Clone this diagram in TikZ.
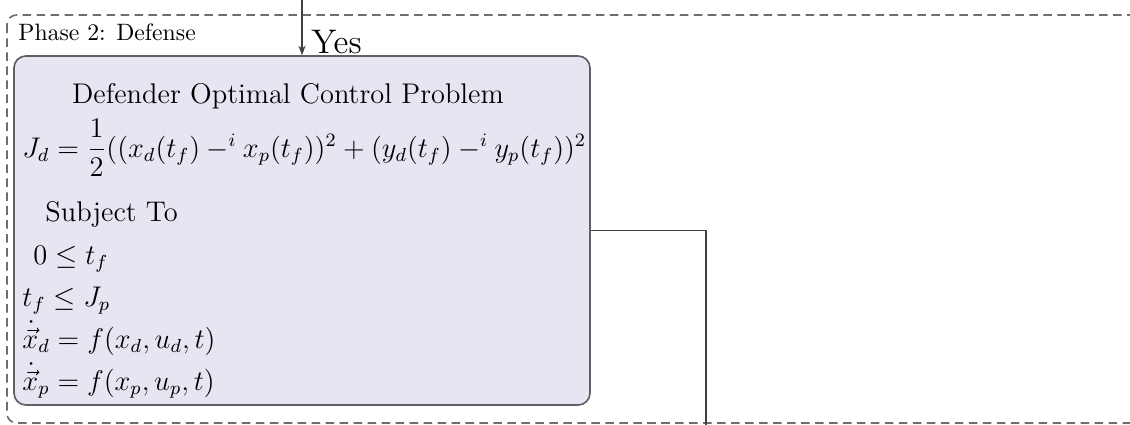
\documentclass[tikz,border=0pt]{standalone}
\usepackage{amsmath}
\usetikzlibrary{arrows.meta}
\definecolor{boxfill}{RGB}{230,230,243}
\definecolor{boxline}{RGB}{95,95,100}
\definecolor{dashline}{RGB}{110,110,110}
\tikzset{
  phase/.style={draw=dashline, line width=0.7pt, dash pattern=on 3.6pt off 2.3pt, rounded corners=4pt},
  probbox/.style={draw=boxline, fill=boxfill, line width=0.7pt, rounded corners=5pt},
  conn/.style={draw=black!75, line width=0.5pt},
  row/.style={anchor=base west, inner sep=0pt, font=\large},
}
\begin{document}
\begin{tikzpicture}[x=0.422pt, y=-0.422pt]
\useasboundingbox (0,0) rectangle (1130,425);
\clip (0,0) rectangle (1130,425);
\draw[phase] (7,15) rectangle (1160,423);
\node[anchor=base west, inner sep=0pt] (lbl) at (18,40) {Phase 2: Defense};
\node[probbox, minimum width=576*0.422pt, minimum height=349*0.422pt, inner sep=0pt] (box) at (302,230.5) {};
\coordinate (top) at (302,-2);
\draw[conn, -{Stealth[length=4pt,width=3pt]}] (top) -- (box.north -| top);
\node[anchor=base west, inner sep=0pt, font=\Large] (yes) at (311,53) {Yes};
\node[anchor=base, inner sep=0pt, font=\large] (title) at (288,103) {Defender Optimal Control Problem};
\node[row] (eq) at (22,157) {$J_d = \dfrac{1}{2}((x_d(t_f) -^i x_p(t_f))^2 + (y_d(t_f) -^i y_p(t_f))^2$};
\node[row] (st) at (45,221) {Subject To};
\node[row] (c1) at (33,264) {$0 \leq t_f$};
\node[row] (c2) at (22,306) {$t_f \leq J_p$};
\node[row] (c3) at (22,348) {$\smash[t]{\dot{\vec{x}}}_d = f(x_d, u_d, t)$};
\node[row] (c4) at (22,390) {$\smash[t]{\dot{\vec{x}}}_p = f(x_p, u_p, t)$};
\coordinate (out) at (706,440);
\draw[conn] (box.east) -| (out);
\end{tikzpicture}
\end{document}
